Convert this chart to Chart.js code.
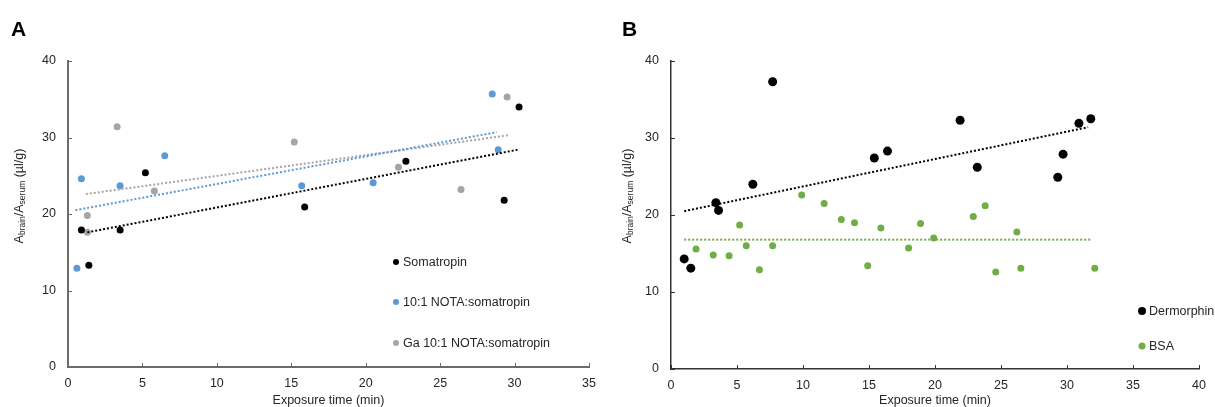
<!DOCTYPE html>
<html>
<head>
<meta charset="utf-8">
<script src="https://cdn.jsdelivr.net/npm/chart.js@4"></script>
<style>
  html, body { margin: 0; padding: 0; background: #fff; }
  #wrap { position: relative; width: 1215px; height: 407px; overflow: hidden; }
  canvas { position: absolute; top: 0; }
  #chartA { left: 0; }
  #chartB { left: 607px; }
</style>
</head>
<body>
<div id="wrap">
  <canvas id="chartA" width="607" height="407"></canvas>
  <canvas id="chartB" width="608" height="407"></canvas>
</div>
<script>
// ---- panel A data (exposure time in min, ratio in µl/g)
const somaX = [0.9, 1.4, 3.5, 5.2, 15.9, 22.7, 29.3, 30.3];
const somaY = [17.9, 13.3, 17.9, 25.4, 20.9, 26.9, 21.8, 34.0];
const notaX = [0.6, 0.9, 3.5, 6.5, 15.7, 20.5, 28.5, 28.9];
const notaY = [12.9, 24.6, 23.7, 27.6, 23.7, 24.1, 35.7, 28.4];
const gaX = [1.3, 1.3, 3.3, 5.8, 15.2, 22.2, 26.4, 29.5];
const gaY = [19.8, 17.6, 31.4, 23.0, 29.4, 26.1, 23.2, 35.3];

// trendline end points
const somaTrendX = [1.3, 30.2];
const somaTrendY = [17.6, 28.4];
const notaTrendX = [0.5, 28.8];
const notaTrendY = [20.5, 30.7];
const gaTrendX = [1.2, 29.6];
const gaTrendY = [22.6, 30.3];

// ---- panel B data
const dermX = [1.0, 1.5, 3.4, 3.6, 6.2, 7.7, 15.4, 16.4, 21.9, 23.2, 29.3, 29.7, 30.9, 31.8];
const dermY = [14.3, 13.1, 21.6, 20.6, 24.0, 37.3, 27.4, 28.3, 32.3, 26.2, 24.9, 27.9, 31.9, 32.5];
const bsaX = [1.0, 1.9, 3.2, 4.4, 5.2, 5.7, 6.7, 7.7, 9.9, 11.6, 12.9, 13.9, 14.9, 15.9, 18.0, 18.9, 19.9, 22.9, 23.8, 24.6, 26.2, 26.5, 32.1];
const bsaY = [14.3, 15.6, 14.8, 14.7, 18.7, 16.0, 12.9, 16.0, 22.6, 21.5, 19.4, 19.0, 13.4, 18.3, 15.7, 18.9, 17.0, 19.8, 21.2, 12.6, 17.8, 13.1, 13.1];
const dermTrendX = [1.0, 31.6];
const dermTrendY = [20.5, 31.4];
const bsaTrendX = [1.0, 31.9];
const bsaTrendY = [16.8, 16.8];

// axis ticks
const yTicks = [0, 10, 20, 30, 40];
const xTicksA = [0, 5, 10, 15, 20, 25, 30, 35];
const xTicksB = [0, 5, 10, 15, 20, 25, 30, 35, 40];

const FONT = '"Liberation Sans", Arial, sans-serif';

function pts(xs, ys) {
    return xs.map((x, i) => ({ x: x, y: ys[i] }));
}

function pointSet(label, xs, ys, color, r) {
    return {
        label: label,
        data: pts(xs, ys),
        backgroundColor: color,
        borderColor: color,
        pointRadius: r,
        pointBorderWidth: 0,
        order: 1
    };
}

function trendSet(xs, ys, color) {
    return {
        label: '',
        data: pts(xs, ys),
        showLine: true,
        borderColor: color,
        borderWidth: 2,
        borderDash: [2, 2],
        pointRadius: 0,
        fill: false,
        order: 0
    };
}

// extra drawing: inside tick marks, panel letter, y title with subscripts, x title, legend
const panelDecor = {
    id: 'panelDecor',
    afterDraw(chart, args, o) {
        const ctx = chart.ctx;
        const area = chart.chartArea;
        const xs = chart.scales.x, ys = chart.scales.y;
        ctx.save();

        ctx.strokeStyle = o.axisColor;
        ctx.lineWidth = 1;
        xs.ticks.forEach(t => {
            const px = Math.round(xs.getPixelForValue(t.value)) + 0.5;
            ctx.beginPath(); ctx.moveTo(px, area.bottom); ctx.lineTo(px, area.bottom - 4); ctx.stroke();
        });
        ys.ticks.forEach(t => {
            const py = Math.round(ys.getPixelForValue(t.value)) + 0.5;
            ctx.beginPath(); ctx.moveTo(area.left, py); ctx.lineTo(area.left + 4, py); ctx.stroke();
        });

        // panel letter
        ctx.fillStyle = '#000';
        ctx.font = 'bold 21px ' + FONT;
        ctx.textBaseline = 'alphabetic';
        ctx.textAlign = 'left';
        ctx.fillText(o.letter, o.letterX, 36);

        // x title
        ctx.fillStyle = '#262626';
        ctx.font = '12.5px ' + FONT;
        ctx.textAlign = 'center';
        ctx.textBaseline = 'middle';
        ctx.fillText('Exposure time (min)', (area.left + area.right) / 2, 401);

        // y title with subscripts
        const parts = [['A', 12.5, 0], ['brain', 8.5, 3], ['/A', 12.5, 0], ['serum', 8.5, 3], [' (\u00b5l/g)', 12.5, 0]];
        let total = 0;
        parts.forEach(p => { ctx.font = p[1] + 'px ' + FONT; total += ctx.measureText(p[0]).width; });
        ctx.translate(o.yTitleX, o.yTitleY);
        ctx.rotate(-Math.PI / 2);
        ctx.textAlign = 'left';
        let cx = -total / 2;
        parts.forEach(p => {
            ctx.font = p[1] + 'px ' + FONT;
            ctx.fillText(p[0], cx, p[2]);
            cx += ctx.measureText(p[0]).width;
        });
        ctx.setTransform(1, 0, 0, 1, 0, 0);

        // legend
        ctx.font = '12.5px ' + FONT;
        ctx.textAlign = 'left';
        o.legend.forEach(item => {
            const ds = chart.data.datasets[item.index];
            ctx.fillStyle = ds.backgroundColor;
            ctx.beginPath();
            ctx.arc(o.legendX, item.y, item.r, 0, Math.PI * 2);
            ctx.fill();
            ctx.fillStyle = '#262626';
            ctx.fillText(ds.label, o.legendX + 7, item.y + 1);
        });
        ctx.restore();
    }
};

function makeOptions(xMax, xTicks, axisColor, axisWidth, yWidth, xHeight, padRight, decor) {
    return {
        responsive: false,
        animation: false,
        layout: { padding: { left: 0, right: padRight, top: 61, bottom: 0 } },
        plugins: {
            legend: { display: false },
            tooltip: { enabled: false },
            panelDecor: decor
        },
        scales: {
            x: {
                type: 'linear',
                min: 0,
                max: xMax,
                afterFit: s => { s.height = xHeight; },
                afterBuildTicks: s => { s.ticks = xTicks.map(v => ({ value: v })); },
                grid: { display: false, drawTicks: false },
                border: { display: true, color: axisColor, width: axisWidth },
                ticks: { color: '#262626', padding: 9, maxRotation: 0, font: { family: FONT, size: 12.5 } }
            },
            y: {
                type: 'linear',
                min: 0,
                max: 40,
                afterFit: s => { s.width = yWidth; },
                afterBuildTicks: s => { s.ticks = yTicks.map(v => ({ value: v })); },
                grid: { display: false, drawTicks: false },
                border: { display: true, color: axisColor, width: axisWidth },
                ticks: { color: '#262626', padding: 12, font: { family: FONT, size: 12.5 } }
            }
        }
    };
}

new Chart(document.getElementById('chartA').getContext('2d'), {
    type: 'scatter',
    data: {
        datasets: [
            pointSet('Somatropin', somaX, somaY, '#000000', 3.5),
            pointSet('10:1 NOTA:somatropin', notaX, notaY, '#5b9bd5', 3.5),
            pointSet('Ga 10:1 NOTA:somatropin', gaX, gaY, '#a5a5a5', 3.5),
            trendSet(somaTrendX, somaTrendY, '#000000'),
            trendSet(notaTrendX, notaTrendY, '#5b9bd5'),
            trendSet(gaTrendX, gaTrendY, '#a5a5a5')
        ]
    },
    plugins: [panelDecor],
    options: makeOptions(35, xTicksA, '#6b6b6b', 2, 68, 40, 18, {
        letter: 'A', letterX: 11, axisColor: '#6b6b6b',
        yTitleX: 20, yTitleY: 196,
        legendX: 396,
        legend: [{ index: 0, y: 262, r: 3 }, { index: 1, y: 302, r: 3 }, { index: 2, y: 343, r: 3 }]
    })
});

new Chart(document.getElementById('chartB').getContext('2d'), {
    type: 'scatter',
    data: {
        datasets: [
            pointSet('Dermorphin', dermX, dermY, '#000000', 4.5),
            pointSet('BSA', bsaX, bsaY, '#70ad47', 3.5),
            trendSet(dermTrendX, dermTrendY, '#000000'),
            trendSet(bsaTrendX, bsaTrendY, '#70ad47')
        ]
    },
    plugins: [panelDecor],
    options: makeOptions(40, xTicksB, '#333333', 1.5, 64, 38, 9, {
        letter: 'B', letterX: 15, axisColor: '#333333',
        yTitleX: 21, yTitleY: 196,
        legendX: 535,
        legend: [{ index: 0, y: 311, r: 4 }, { index: 1, y: 346, r: 3.5 }]
    })
});
</script>
</body>
</html>
